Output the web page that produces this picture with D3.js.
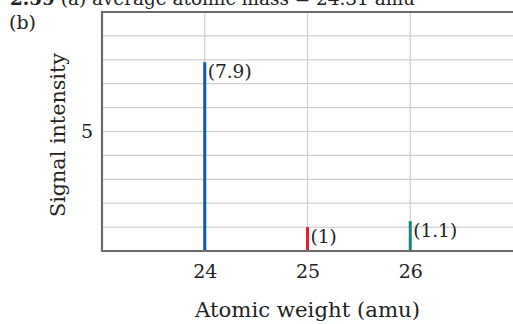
<!DOCTYPE html>
<html><head><meta charset="utf-8">
<script src="https://cdn.jsdelivr.net/npm/d3@7"></script>
<style>html,body{margin:0;padding:0;background:#fff;overflow:hidden}svg{display:block}</style>
</head><body><svg id="c" width="513" height="324"></svg>
<script>
const masses = [24, 25, 26];
const intensities = [7.9, 1, 1.25];
const valueLabels = ["(7.9)", "(1)", "(1.1)"];
const barColors = ["#0a5ca8", "#e61e3c", "#13877c"];
const xTicks = [24, 25, 26];
const yTicks = [5];
const yGrid = [1,2,3,4,5,6,7,8,9];
const xTitle = "Atomic weight (amu)";
const yTitle = "Signal intensity";
const topBold = "2.59";
const topText = " (a) average atomic mass = 24.31 amu";
const panelLabel = "(b)";

const FONT = "'DejaVu Serif', 'Liberation Serif', serif";
const svg = d3.select("#c");
const L = 102, R = 513, T = 12, B = 251;
const x = d3.scaleLinear().domain([23, 27]).range([L, R]);
const y = d3.scaleLinear().domain([0, 10]).range([B, T]);

// top cut text
const tt = svg.append("text").attr("x", 10).attr("y", 5).attr("font-family", FONT).attr("font-size", 19).attr("fill", "#222")
  .attr("textLength", 405).attr("lengthAdjust", "spacingAndGlyphs");
tt.append("tspan").attr("font-weight", "bold").text(topBold);
tt.append("tspan").text(topText);

svg.append("text").attr("x", 9).attr("y", 29).attr("font-family", FONT).attr("font-size", 19).attr("fill", "#222").text(panelLabel);

// grid
svg.append("g").selectAll("line").data(yGrid).join("line")
  .attr("x1", L).attr("x2", R).attr("y1", d => y(d)).attr("y2", d => y(d))
  .attr("stroke", "#cfcfcf").attr("stroke-width", 1.2);
svg.append("g").selectAll("line").data(xTicks).join("line")
  .attr("x1", d => x(d)).attr("x2", d => x(d)).attr("y1", T).attr("y2", B)
  .attr("stroke", "#cfcfcf").attr("stroke-width", 1.2);

// frame top
svg.append("line").attr("x1", L).attr("x2", R).attr("y1", T).attr("y2", T).attr("stroke", "#6b6b6b").attr("stroke-width", 2);

// axes
const xAxis = svg.append("g").attr("transform", `translate(0,${B})`)
  .call(d3.axisBottom(x).tickValues(xTicks).tickSize(0).tickPadding(14).tickFormat(d3.format("d")));
const yAxis = svg.append("g").attr("transform", `translate(${L},0)`)
  .call(d3.axisLeft(y).tickValues(yTicks).tickSize(0).tickPadding(9).tickFormat(d3.format("d")));
[xAxis, yAxis].forEach(g => {
  g.select(".domain").attr("stroke", "#6b6b6b").attr("stroke-width", 2.2);
  g.selectAll("text").attr("font-family", FONT).attr("font-size", 19).attr("fill", "#222");
});
xAxis.select(".domain").attr("d", `M${L - 1},0H${R}`);
yAxis.select(".domain").attr("d", `M0,${T - 1}V${B + 1}`);

// bars
svg.append("g").selectAll("line").data(masses).join("line")
  .attr("x1", d => x(d)).attr("x2", d => x(d))
  .attr("y1", B - 1).attr("y2", (d, i) => y(intensities[i]))
  .attr("stroke", (d, i) => barColors[i]).attr("stroke-width", 3);

svg.append("g").selectAll("text").data(masses).join("text")
  .attr("x", d => x(d) + 3).attr("y", (d, i) => y(intensities[i]) + 16)
  .attr("font-family", FONT).attr("font-size", 18.5).attr("fill", "#222")
  .text((d, i) => valueLabels[i]);

// titles
svg.append("text").attr("x", 195).attr("y", 317)
  .attr("textLength", 225).attr("lengthAdjust", "spacingAndGlyphs")
  .attr("font-family", FONT).attr("font-size", 20).attr("fill", "#222").text(xTitle);
svg.append("text").attr("transform", "translate(65,217) rotate(-90)")
  .attr("textLength", 164).attr("lengthAdjust", "spacingAndGlyphs")
  .attr("font-family", FONT).attr("font-size", 20).attr("fill", "#222").text(yTitle);
</script></body></html>
